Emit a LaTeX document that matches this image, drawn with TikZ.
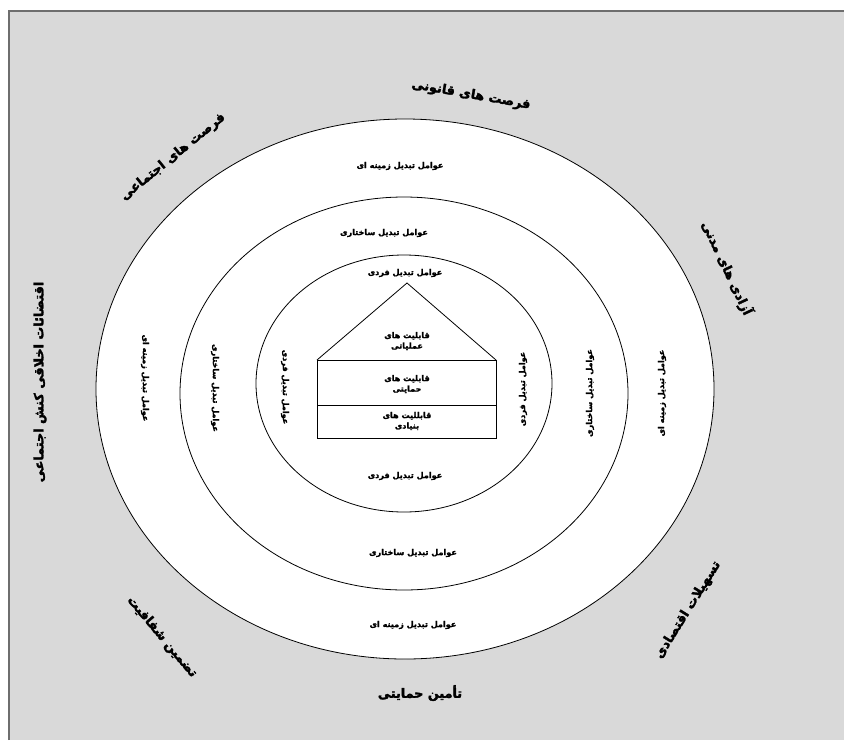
\documentclass[tikz,border=0pt]{standalone}
\usepackage{fontspec}
\TeXXeTstate=1
\newfontfamily\arfont[Script=Arabic,FakeBold=1.8]{DejaVu Sans}
\newfontfamily\arbigfont[Script=Arabic,FakeBold=2.4]{DejaVu Sans}
\newcommand{\artext}[1]{\beginR #1\endR}
\definecolor{bgray}{HTML}{D9D9D9}
\definecolor{fgray}{HTML}{6E6E6E}
\begin{document}
\begin{tikzpicture}[x=1pt,y=-1pt,
  lbl/.style={font=\arfont\bfseries\fontsize{8.1}{10.5}\selectfont, inner sep=1pt, align=center},
  big/.style={font=\arbigfont\bfseries\fontsize{12.8}{15}\selectfont, inner sep=1pt},
  ring/.style={draw=black, fill=white, line width=0.8pt}]
\useasboundingbox (0,0) rectangle (844,740);
% frame
\fill[bgray] (9,11) rectangle (844,740);
\draw[fgray, line width=2pt] (9,740) -- (9,11) -- (844,11);
% rings
\path[ring] (405,389) ellipse [x radius=309, y radius=270];
\path[ring] (404,393.5) ellipse [x radius=224, y radius=196.5];
\path[ring] (404,383.5) ellipse [x radius=148, y radius=128.5];
% house
\coordinate (peak) at (407,283);
\coordinate (eL) at (317,360);
\coordinate (eR) at (496,360);
\draw[line width=0.8pt] (eL) -- (peak) -- (eR);
\node[draw, line width=0.8pt, minimum width=179pt, minimum height=45pt, inner sep=0pt] (box1) at (406.5,382.5) {};
\node[draw, line width=0.8pt, minimum width=179pt, minimum height=33pt, inner sep=0pt] (box2) at (406.5,421.5) {};
\node[lbl] (cap1) at (407,341) {\artext{قابلیت های}\\\artext{عملیاتی}};
\node[lbl] (cap2) at (407,384) {\artext{قابلیت های}\\\artext{حمایتی}};
\node[lbl] (cap3) at (407,421) {\artext{قابللیت های}\\\artext{بنیادی}};
% inner ring labels
\node[lbl] (fT) at (405,273) {\artext{عوامل تبدیل فردی}};
\node[lbl] (fB) at (405,476) {\artext{عوامل تبدیل فردی}};
\node[lbl, rotate=90] (fR) at (523,389) {\artext{عوامل تبدیل فردی}};
\node[lbl, rotate=-90] (fL) at (285,387) {\artext{عوامل تبدیل فردی}};
% middle ring labels
\node[lbl] (sT) at (384,233) {\artext{عوامل تبدیل ساختاری}};
\node[lbl] (sB) at (413,553) {\artext{عوامل تبدیل ساختاری}};
\node[lbl, rotate=90] (sR) at (590,393) {\artext{عوامل تبدیل ساختاری}};
\node[lbl, rotate=-90] (sL) at (215,388) {\artext{عوامل تبدیل ساختاری}};
% outer ring labels
\node[lbl] (zT) at (400,166) {\artext{عوامل تبدیل زمینه ای}};
\node[lbl] (zB) at (413,625) {\artext{عوامل تبدیل زمینه ای}};
\node[lbl, rotate=90] (zR) at (662,393) {\artext{عوامل تبدیل زمینه ای}};
\node[lbl, rotate=-90] (zL) at (145,378) {\artext{عوامل تبدیل زمینه ای}};
% outside labels
\node[big, rotate=-10] (qan) at (471,95) {\artext{فرصت های قانونی}};
\node[big, rotate=39] (ejt) at (173,157) {\artext{فرصت های اجتماعی}};
\node[big, rotate=-65] (mad) at (727,268) {\artext{آزادی های مدنی}};
\node[big, rotate=90] (akh) at (40,382) {\artext{اقتضائات اخلاقی کنش اجتماعی}};
\node[big, rotate=58] (eqt) at (688,610) {\artext{تسهیلات اقتصادی}};
\node[big, rotate=-50] (shf) at (162,637) {\artext{تضمین شفافیت}};
\node[big] (hem) at (420,693) {\artext{تأمین حمایتی}};
\end{tikzpicture}
\end{document}
